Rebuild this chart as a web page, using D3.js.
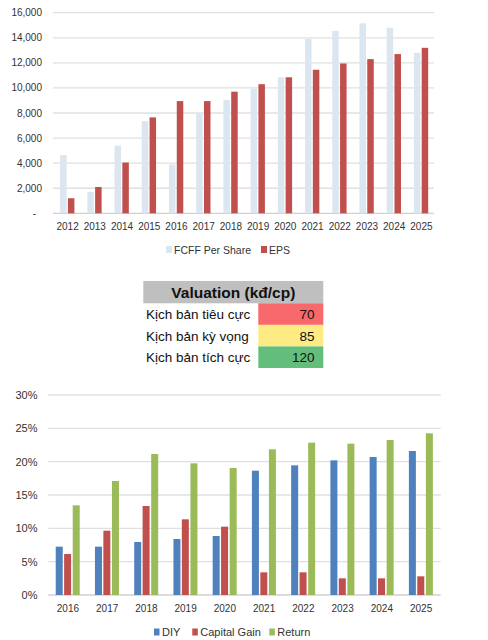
<!DOCTYPE html>
<html><head><meta charset="utf-8">
<script src="https://cdn.jsdelivr.net/npm/d3@7"></script>
<style>body{margin:0;background:#fff}svg{display:block}text{font-family:"Liberation Sans",Arial,sans-serif}</style>
</head><body>
<svg id="c" width="488" height="640"></svg>
<script>
// Top chart data
const years1 = ["2012","2013","2014","2015","2016","2017","2018","2019","2020","2021","2022","2023","2024","2025"];
const fcff = [4650,1700,5400,7350,3900,8000,9050,9950,10850,13900,14550,15150,14800,12800];
const eps  = [1200,2100,4050,7650,8950,8950,9700,10300,10850,11450,11950,12300,12700,13200];
const ticks1 = [0,2000,4000,6000,8000,10000,12000,14000,16000];

// Valuation table
const tableTitle = "Valuation (kđ/cp)";
const scenarios = ["Kịch bản tiêu cực","Kịch bản kỳ vọng","Kịch bản tích cực"];
const scenarioValues = [70,85,120];
const scenarioColors = ["#F8696B","#FFEB84","#63BE7B"];

// Bottom chart data
const years2 = ["2016","2017","2018","2019","2020","2021","2022","2023","2024","2025"];
const diy = [7.25,7.25,7.95,8.4,8.85,18.65,19.45,20.2,20.7,21.6];
const capGain = [6.15,9.65,13.35,11.35,10.25,3.4,3.4,2.5,2.5,2.8];
const ret = [13.45,17.1,21.15,19.75,19.05,21.85,22.85,22.7,23.25,24.25];
const ticks2 = [0,5,10,15,20,25,30];

const svg = d3.select("#c");
const txt = "#333";

// ---------- Top chart ----------
{
  const x = d3.scaleBand().domain(years1).range([53,434]);
  const y = d3.scaleLinear().domain([0,16000]).range([213.3,12.7]);
  const g = svg.append("g");
  g.selectAll("line.grid").data(ticks1).join("line")
    .attr("x1",53).attr("x2",434).attr("y1",d=>y(d)).attr("y2",d=>y(d))
    .attr("stroke",d=>d===0?"#d0d0d0":"#e0e0e0").attr("stroke-width",1.3);
  g.selectAll("text.yt").data(ticks1).join("text")
    .attr("x",d=>d===0?36:42).attr("y",d=>y(d)+3.5).attr("text-anchor","end")
    .attr("font-size",10).attr("fill",txt)
    .text(d=>d===0?"-":d3.format(",")(d));
  const bw = 6.5;
  const series = [{vals:fcff,color:"#DCE6F1",off:-7.3},{vals:eps,color:"#C0504D",off:0.5}];
  series.forEach(s=>{
    g.selectAll(null).data(years1).join("rect")
      .attr("x",d=>x(d)+x.bandwidth()/2+s.off+0.8)
      .attr("width",bw)
      .attr("y",(d,i)=>y(s.vals[i]))
      .attr("height",(d,i)=>y(0)-y(s.vals[i]))
      .attr("fill",s.color);
  });
  g.selectAll("text.xt").data(years1).join("text")
    .attr("x",d=>x(d)+x.bandwidth()/2+1).attr("y",229.5).attr("text-anchor","middle")
    .attr("font-size",10).attr("fill",txt).text(d=>d);
  const leg = [{t:"FCFF Per Share",c:"#DCE6F1",x:166},{t:"EPS",c:"#C0504D",x:261}];
  leg.forEach(l=>{
    g.append("rect").attr("x",l.x).attr("y",246).attr("width",6).attr("height",7).attr("fill",l.c);
    g.append("text").attr("x",l.x+8).attr("y",253.5).attr("font-size",10.5).attr("fill",txt).text(l.t);
  });
}

// ---------- Table ----------
{
  const g = svg.append("g");
  const left = 143.3, right = 323.3, valX = 258.3;
  g.append("rect").attr("x",left).attr("y",281).attr("width",right-left).attr("height",22.3).attr("fill","#BFBFBF");
  g.append("text").attr("x",(left+right)/2).attr("y",297.8).attr("text-anchor","middle")
    .attr("font-size",15.5).attr("font-weight","bold").attr("fill","#111").text(tableTitle);
  const rowY = d3.scaleBand().domain(scenarios).range([303.3,368]);
  g.selectAll("rect.v").data(scenarios).join("rect")
    .attr("x",valX).attr("y",d=>rowY(d)).attr("width",right-valX).attr("height",rowY.bandwidth())
    .attr("fill",(d,i)=>scenarioColors[i]);
  g.selectAll("text.l").data(scenarios).join("text")
    .attr("x",146).attr("y",d=>rowY(d)+rowY.bandwidth()/2+5)
    .attr("font-size",13.5).attr("fill","#111").text(d=>d);
  g.selectAll("text.n").data(scenarios).join("text")
    .attr("x",314.5).attr("y",d=>rowY(d)+rowY.bandwidth()/2+5).attr("text-anchor","end")
    .attr("font-size",13.5).attr("fill","#111").text((d,i)=>scenarioValues[i]);
}

// ---------- Bottom chart ----------
{
  const x = d3.scaleBand().domain(years2).range([48.3,440.7]);
  const y = d3.scaleLinear().domain([0,30]).range([595,395]);
  const g = svg.append("g");
  g.selectAll("line.grid").data(ticks2).join("line")
    .attr("x1",48.3).attr("x2",440.7).attr("y1",d=>y(d)).attr("y2",d=>y(d))
    .attr("stroke",d=>d===0?"#d0d0d0":"#e0e0e0").attr("stroke-width",1.3);
  g.selectAll("text.yt").data(ticks2).join("text")
    .attr("x",37.5).attr("y",d=>y(d)+4).attr("text-anchor","end")
    .attr("font-size",11).attr("fill",txt).text(d=>d+"%");
  const bw = 7;
  const series = [{vals:diy,c:"#4F81BD",off:-12.2},{vals:capGain,c:"#C0504D",off:-3.8},{vals:ret,c:"#9BBB59",off:4.8}];
  series.forEach(s=>{
    g.selectAll(null).data(years2).join("rect")
      .attr("x",d=>x(d)+x.bandwidth()/2+s.off)
      .attr("width",bw)
      .attr("y",(d,i)=>y(s.vals[i]))
      .attr("height",(d,i)=>y(0)-y(s.vals[i]))
      .attr("fill",s.c);
  });
  g.selectAll("text.xt").data(years2).join("text")
    .attr("x",d=>x(d)+x.bandwidth()/2).attr("y",612).attr("text-anchor","middle")
    .attr("font-size",10).attr("fill",txt).text(d=>d);
  const leg = [{t:"DIY",c:"#4F81BD",x:154},{t:"Capital Gain",c:"#C0504D",x:192.3},{t:"Return",c:"#9BBB59",x:269.3}];
  leg.forEach(l=>{
    g.append("rect").attr("x",l.x).attr("y",628.5).attr("width",5.5).attr("height",7).attr("fill",l.c);
    g.append("text").attr("x",l.x+8).attr("y",636).attr("font-size",11).attr("fill",txt).text(l.t);
  });
}
</script>
</body></html>
